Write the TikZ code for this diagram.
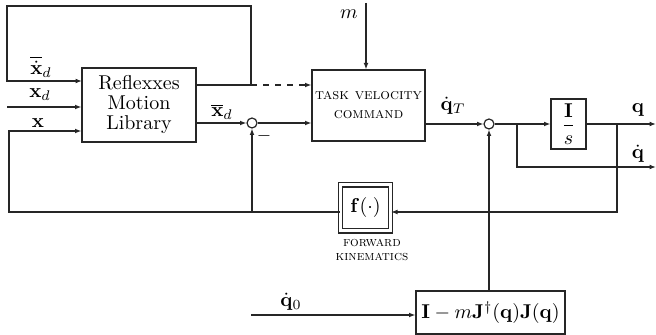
\documentclass[tikz,border=0pt]{standalone}
\usepackage{amsmath}
\usetikzlibrary{arrows.meta,calc}
\begin{document}
\begin{tikzpicture}[x=0.5pt,y=-0.5pt,
  ln/.style={draw=black!85,line width=0.6pt},
  arr/.style={ln,-{Latex[length=3.2pt,width=2.4pt]}},
  blk/.style={draw=black!85,line width=0.6pt,rectangle,inner sep=0pt,align=center},
  sumc/.style={draw=black!85,line width=0.6pt,circle,minimum size=5pt,inner sep=0pt},
  lbl/.style={inner sep=0pt}]
\useasboundingbox (0,0) rectangle (656,335);

% blocks
\node[blk,minimum width=57pt,minimum height=37pt,font=\fontsize{10}{10}\selectfont] (rml) at (139,105) {Reflexxes\\Motion\\Library};
\node[blk,minimum width=56.5pt,minimum height=35.5pt,font=\fontsize{7.6}{9.5}\selectfont\scshape] (tvc) at (368.5,105.5) {task velocity\\command};
\node[sumc] (s1) at (252,123) {};
\node[sumc] (s2) at (489,124) {};
\node[blk,minimum width=17.5pt,minimum height=25pt] (integ) at (568.5,124) {$\dfrac{\mathbf{I}}{s}$};
\node[blk,double,double distance=1.5pt,minimum width=25pt,minimum height=23pt] (fk) at (365.5,208) {$\mathbf{f}(\cdot)$};
\node[lbl,font=\fontsize{6.8}{6.8}\selectfont\scshape,align=center] (fkl) at (372,250) {forward\\kinematics};
\node[blk,minimum width=74.5pt,minimum height=21.5pt] (ns) at (490.5,312.5) {$\mathbf{I}-m\mathbf{J}^\dagger(\mathbf{q})\mathbf{J}(\mathbf{q})$};

% coordinates
\coordinate (jtop) at (251,85);
\coordinate (ctopL) at (7,6);
\coordinate (in1) at (82,81);
\coordinate (xdin) at (7,107);
\coordinate (jfb) at (252,212);
\coordinate (cbl) at (9,212);
\coordinate (xin) at (9,131);
\coordinate (jq) at (517,124);
\coordinate (qdout) at (656,167);
\coordinate (qout) at (656,124);
\coordinate (jf) at (617,124);
\coordinate (mtop) at (366,3);
\coordinate (q0in) at (251,315);

% connectors
\draw[ln] (rml.east |- jtop) -- (jtop);
\draw[arr] (jtop) |- (ctopL) |- (in1);
\draw[arr,dashed] (jtop) -- (tvc.west |- jtop);
\draw[arr] (xdin) -- (rml.west |- xdin);
\draw[arr] (fk.west |- jfb) -- (cbl) |- (rml.west |- xin);
\draw[arr] (jfb) -- (s1);
\draw[arr] (rml.east |- s1) -- (s1);
\draw[arr] (s1) -- (tvc.west |- s1);
\draw[arr] (tvc.east |- s2) -- (s2);
\draw[arr] (s2) -- (integ);
\draw[arr] (jq) |- (qdout);
\draw[arr] (integ) -- (qout);
\draw[arr] (jf) |- (fk.east |- jfb);
\draw[arr] (mtop) -- (tvc.north -| mtop);
\draw[arr] (q0in) -- (ns.west |- q0in);
\draw[arr] (ns.north -| s2) -- (s2);

% labels
\node[lbl] (lxdd) at (41,67) {$\overline{\dot{\mathbf{x}}}_d$};
\node[lbl] (lxd) at (40,95) {$\mathbf{x}_d$};
\node[lbl] (lx) at (38,123) {$\mathbf{x}$};
\node[lbl] (lxbd) at (222,112) {$\overline{\mathbf{x}}_d$};
\node[lbl] (lminus) at (264,136) {\small$-$};
\node[lbl] (lm) at (349,14) {$m$};
\node[lbl] (lqt) at (453,106) {$\dot{\mathbf{q}}_T$};
\node[lbl] (lq) at (638,110) {$\mathbf{q}$};
\node[lbl] (lqd) at (638,154) {$\dot{\mathbf{q}}$};
\node[lbl] (lq0) at (291,302) {$\dot{\mathbf{q}}_0$};
\end{tikzpicture}
\end{document}
